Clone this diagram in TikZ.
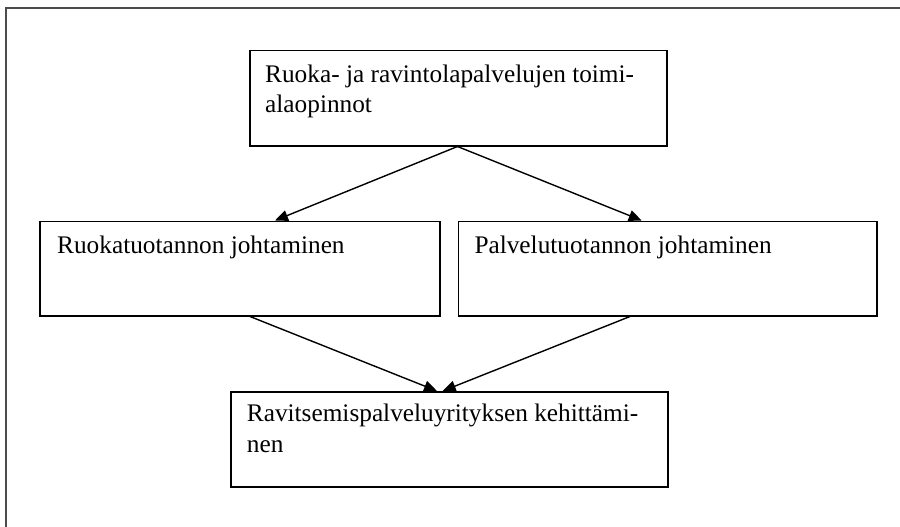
\documentclass[tikz,border=0pt]{standalone}
\usepackage{fontspec}
\setmainfont{Liberation Serif}
\usetikzlibrary{arrows.meta}
\begin{document}
\begin{tikzpicture}[x=1pt,y=-1pt,
  box/.style={draw=black,line width=1.5pt,rectangle,inner sep=0pt,anchor=north west},
  txt/.style={anchor=base west,inner sep=0pt,font=\fontsize{25.3}{30}\selectfont},
  link/.style={draw=black,line width=1.4pt,-{Triangle[length=13pt,width=11pt]}}]
\useasboundingbox (0,0) rectangle (900,527);
% outer frame (only its top and left sides fall inside the page)
\draw[black!70,line width=2pt] (5.5,540) -- (5.5,8) -- (910,8);
% boxes
\node[box,minimum width=417pt,minimum height=95pt] (top) at (249,50) {};
\node[box,minimum width=400pt,minimum height=94.5pt] (left) at (39,220.5) {};
\node[box,minimum width=418.5pt,minimum height=94.5pt] (right) at (457.7,220.5) {};
\node[box,minimum width=437pt,minimum height=95pt] (bottom) at (230,391) {};
% texts
\node[txt] (top1) at (265,83) {Ruoka- ja ravintolapalvelujen toimi-};
\node[txt] (top2) at (265,112) {alaopinnot};
\node[txt] (left1) at (57,253) {Ruokatuotannon johtaminen};
\node[txt] (right1) at (474.3,253) {Palvelutuotannon johtaminen};
\node[txt] (bot1) at (246.7,421.7) {Ravitsemispalveluyrityksen kehittämi-};
\node[txt] (bot2) at (246.7,452.5) {nen};
% connectors
\draw[link] ([xshift=208.5pt]top.south west) -- ([xshift=236pt]left.north west);
\draw[link] ([xshift=208.5pt]top.south west) -- ([xshift=184pt]right.north west);
\draw[link] ([xshift=211pt]left.south west) -- ([xshift=207pt]bottom.north west);
\draw[link] ([xshift=172.3pt]right.south west) -- ([xshift=212.7pt]bottom.north west);
\end{tikzpicture}
\end{document}
